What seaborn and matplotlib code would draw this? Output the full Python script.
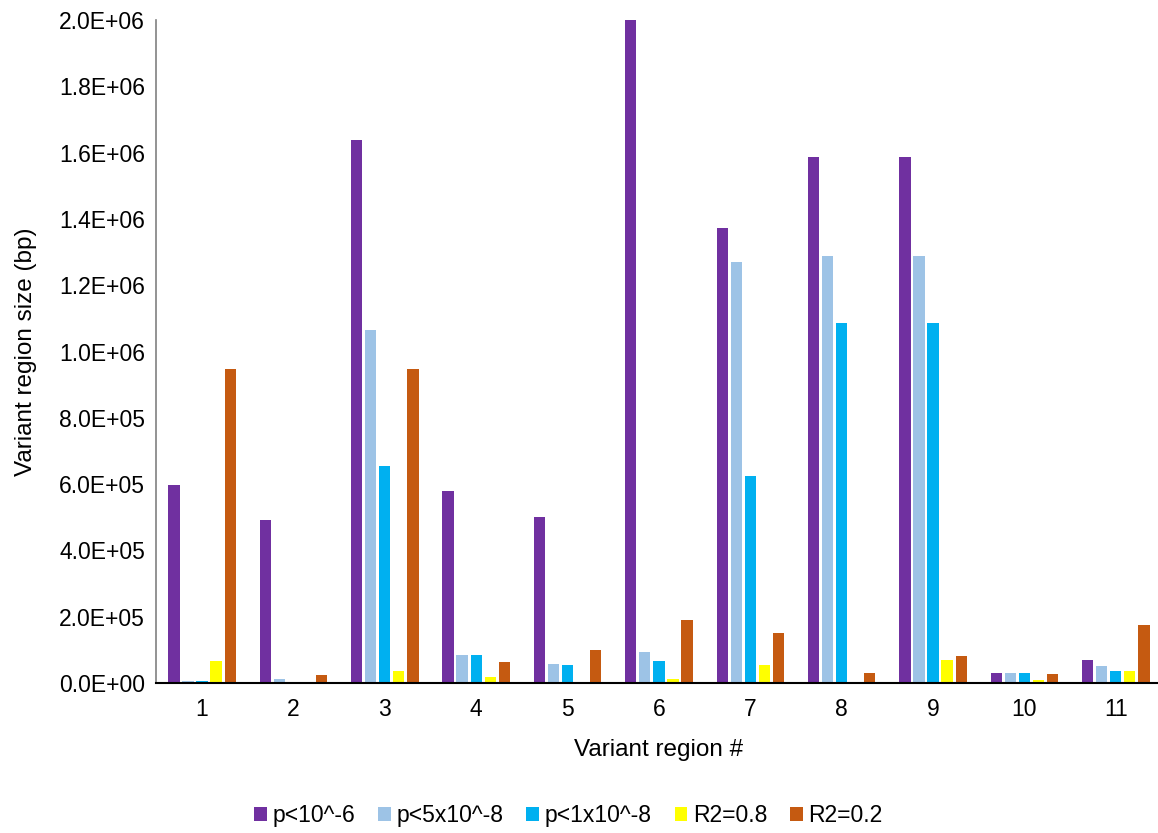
import pandas as pd
import matplotlib.pyplot as plt
import seaborn as sns

# --- DATA ---
regions = ["1", "2", "3", "4", "5", "6", "7", "8", "9", "10", "11"]
series_names = ["p<10^-6", "p<5x10^-8", "p<1x10^-8", "R2=0.8", "R2=0.2"]

p_1e6 = [598000, 493000, 1638000, 580000, 502000, 2000000, 1372000, 1587000, 1587000, 30000, 69000]
p_5e8 = [6000, 12000, 1066000, 84000, 57000, 94000, 1271000, 1288000, 1288000, 30000, 51000]
p_1e8 = [6000, 0, 656000, 84000, 54000, 66000, 625000, 1085000, 1085000, 30000, 36000]
r2_08 = [66000, 1000, 36000, 18000, 0, 12000, 53000, 0, 69000, 9000, 36000]
r2_02 = [948000, 23000, 948000, 63000, 99000, 189000, 151000, 30000, 81000, 27000, 175000]

colors = ["#7030A0", "#9DC3E6", "#00B0F0", "#FFFF00", "#C55A11"]

# long-format table for seaborn
df = pd.DataFrame({
    "region": regions * 5,
    "series": [s for s in series_names for _ in regions],
    "size": p_1e6 + p_5e8 + p_1e8 + r2_08 + r2_02,
})

sns.set_style("white")
plt.rcParams["font.family"] = ["Liberation Sans", "DejaVu Sans"]
plt.rcParams["text.color"] = "#000000"
plt.rcParams["axes.labelcolor"] = "#000000"

fig = plt.figure(figsize=(11.58, 8.33), dpi=100)
ax = fig.add_axes([0.135, 0.18, 0.868, 0.796])

sns.barplot(data=df, x="region", y="size", hue="series", hue_order=series_names,
            palette=colors, width=0.77, gap=0.2, linewidth=0, saturation=1,
            errorbar=None, ax=ax)

ax.set_ylim(0, 2.0e6)
ax.set_yticks([i * 2e5 for i in range(11)])
ax.set_yticklabels([f"{v:.1E}" for v in ax.get_yticks()])
ax.tick_params(axis="both", labelsize=16.5, length=0, colors="#000000", pad=8)
ax.tick_params(axis="x", pad=11)

ax.set_xlabel("Variant region #", fontsize=17.5, labelpad=13)
ax.set_ylabel("Variant region size (bp)", fontsize=17.5, labelpad=16)

sns.despine(ax=ax)
ax.spines["left"].set_color("#808080")
ax.spines["left"].set_linewidth(1.2)
ax.spines["bottom"].set_color("#000000")
ax.spines["bottom"].set_linewidth(1.5)

ax.legend(loc="upper center", bbox_to_anchor=(0.41, -0.152), ncol=5, frameon=False,
          fontsize=16.5, handlelength=0.55, handleheight=0.55, handletextpad=0.25,
          columnspacing=1.0)

plt.savefig("out.png", dpi=100)
